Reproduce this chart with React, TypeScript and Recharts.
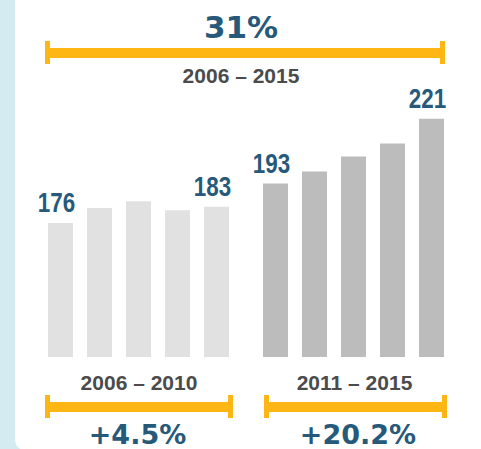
import { BarChart, Bar, XAxis, YAxis, LabelList } from "recharts";

const firstYears = ["2006", "2007", "2008", "2009", "2010"];
const firstValues = [176, 182.4, 185.3, 181.5, 183];
const firstLabels = ["176", "", "", "", "183"];

const secondYears = ["2011", "2012", "2013", "2014", "2015"];
const secondValues = [193, 198.2, 204.7, 210.3, 221];
const secondLabels = ["193", "", "", "", "221"];

const periodLabels = ["2006 – 2010", "2011 – 2015"];
const periodChanges = ["+4.5%", "+20.2%"];
const totalPeriod = "2006 – 2015";
const totalChange = "31%";

const yDomain = [118, 230];

const BLUE = "#26597a";
const GOLD = "#fdb614";
const GREY_TEXT = "#4b4b4b";

const firstData = firstYears.map((year, i) => ({
  year,
  value: firstValues[i],
  label: firstLabels[i],
}));
const secondData = secondYears.map((year, i) => ({
  year,
  value: secondValues[i],
  label: secondLabels[i],
}));

// condensed bold numbers above the first/last bar of each group
const ValueLabel = (props: any) => {
  const { x, y, width, value } = props;
  if (!value) return null;
  const cx = x + width / 2 - 4;
  return (
    <text
      transform={`translate(${cx}, ${y - 11}) scale(0.8, 1)`}
      textAnchor="middle"
      fill={BLUE}
      style={{
        fontFamily: "'Liberation Sans', Arial, sans-serif",
        fontWeight: 700,
        fontSize: 28,
      }}
    >
      {value}
    </text>
  );
};

// side padding leaves room for labels that hang past the outer bars
const PAD = 20;

const GroupChart = ({ data, color, left }: { data: any[]; color: string; left: number }) => (
  <div style={{ position: "absolute", left: left - PAD, top: 58 }}>
    <BarChart
      width={195 + PAD * 2}
      height={299}
      data={data}
      margin={{ top: 40, right: PAD, bottom: 0, left: PAD }}
    >
      <XAxis dataKey="year" hide />
      <YAxis type="number" domain={yDomain} allowDataOverflow hide />
      <Bar dataKey="value" fill={color} barSize={25} isAnimationActive={false}>
        <LabelList dataKey="label" content={<ValueLabel />} />
      </Bar>
    </BarChart>
  </div>
);

const Bracket = ({ x1, x2, y }: { x1: number; x2: number; y: number }) => (
  <g fill={GOLD}>
    <rect x={x1} y={y + 7} width={x2 - x1} height={10} />
    <rect x={x1} y={y} width={5} height={23} />
    <rect x={x2 - 5} y={y} width={5} height={23} />
  </g>
);

const bigText = {
  fontFamily: "'DejaVu Sans', sans-serif",
  fontWeight: 700,
};
const greyText = {
  fontFamily: "'Liberation Sans', Arial, sans-serif",
  fontWeight: 700,
  fontSize: 21,
};

export default function App() {
  return (
    <div
      style={{
        position: "absolute",
        left: 0,
        top: 0,
        width: 481,
        height: 449,
        overflow: "hidden",
        background: "#d4ecf1",
      }}
    >
      <div
        style={{
          position: "absolute",
          left: 15,
          top: -20,
          width: 480,
          height: 471,
          background: "#ffffff",
          borderBottomLeftRadius: 12,
        }}
      />
      <GroupChart data={firstData} color="#e0e1e0" left={41} />
      <GroupChart data={secondData} color="#bcbcbc" left={256} />
      <svg
        width={481}
        height={449}
        style={{ position: "absolute", left: 0, top: 0, pointerEvents: "none" }}
      >
        <text x={241} y={38} textAnchor="middle" fill={BLUE} style={{ ...bigText, fontSize: 31 }}>
          {totalChange}
        </text>
        <Bracket x1={45} x2={445} y={41} />
        <text x={241} y={83} textAnchor="middle" fill={GREY_TEXT} style={greyText}>
          {totalPeriod}
        </text>

        <text x={139} y={390} textAnchor="middle" fill={GREY_TEXT} style={greyText}>
          {periodLabels[0]}
        </text>
        <text x={354.5} y={390} textAnchor="middle" fill={GREY_TEXT} style={greyText}>
          {periodLabels[1]}
        </text>
        <Bracket x1={45} x2={233} y={395} />
        <Bracket x1={264} x2={447} y={395} />
        <text x={137.5} y={444} textAnchor="middle" fill={BLUE} style={{ ...bigText, fontSize: 27 }}>
          {periodChanges[0]}
        </text>
        <text x={358} y={444} textAnchor="middle" fill={BLUE} style={{ ...bigText, fontSize: 27 }}>
          {periodChanges[1]}
        </text>
      </svg>
    </div>
  );
}
